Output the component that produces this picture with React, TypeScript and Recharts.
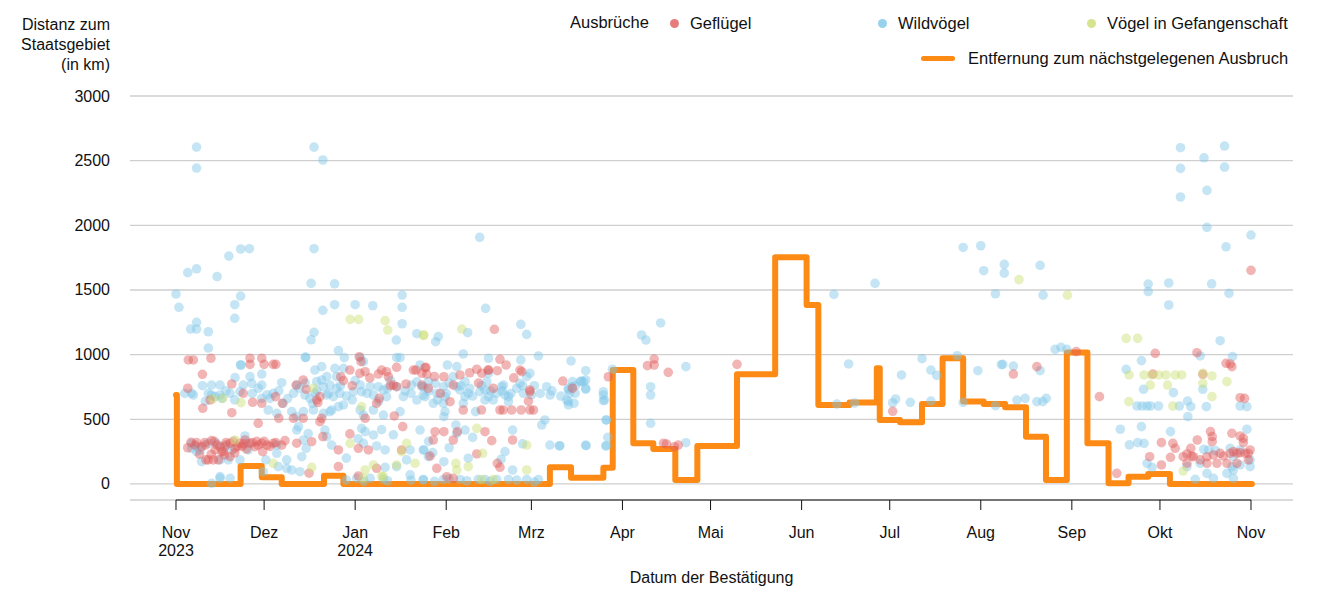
import React from 'react'
import {
  ComposedChart,
  Scatter,
  Line,
  XAxis,
  YAxis,
  CartesianGrid,
  ReferenceLine,
} from 'recharts'

// x = Tage seit 1. Nov 2023, y = Distanz in km
const MONTH_TICKS = [0, 30, 61, 92, 121, 152, 182, 213, 243, 274, 305, 335, 366]
const MONTH_LABELS = ['Nov\n2023', 'Dez', 'Jan\n2024', 'Feb', 'Mrz', 'Apr', 'Mai', 'Jun', 'Jul', 'Aug', 'Sep', 'Okt', 'Nov']
const Y_TICKS = [0, 500, 1000, 1500, 2000, 2500, 3000]

const gefluegel: [number, number][] = [
  [4.2, 959], [5.9, 959], [11.9, 972], [9, 848], [4, 740], [9.1, 585], [11.6, 649], [19, 773], [19, 551],
  [25.2, 972], [29.2, 972], [25.2, 925], [30, 925], [33.1, 925], [34, 925], [22.9, 701], [26.1, 632],
  [29.2, 624], [33.9, 675], [36.2, 624], [28, 469], [35, 508],
  [5.1, 322], [8.7, 288], [12.1, 335], [13.3, 263], [15, 288], [16.1, 250], [18.4, 315], [20.1, 276],
  [21.8, 315], [23.5, 340], [25.2, 315], [26.9, 288], [29.2, 315], [29.5, 250], [33.1, 315], [37.1, 335],
  [12.7, 186], [14.4, 186], [10.2, 186], [18.4, 211], [15.6, 250], [11, 186], [6.5, 300], [9.8, 320],
  [17, 300], [19.5, 330], [22.5, 290], [27.5, 330], [31, 300], [24, 270], [16.5, 225], [8, 230],
  [4, 280], [7, 320], [10, 300], [13, 330], [14, 300], [17, 320], [21, 290], [23, 310], [26, 320],
  [28, 300], [30, 330], [32, 290], [34, 320], [36, 300], [12, 230], [20, 240],
  [55.3, 263], [55.3, 134], [59.2, 387], [46.2, 327], [41.1, 315], [45.3, 83], [62.1, 276], [65.5, 263],
  [62.4, 984], [63, 946], [68.9, 850], [72.3, 829], [71.7, 868], [75.1, 902], [78.3, 773], [81.7, 881],
  [85.4, 850], [84.8, 899], [77.2, 443], [74.3, 526], [57, 799], [56.1, 829], [40.9, 765], [44.3, 732],
  [43.3, 804], [47.9, 649], [49, 675], [48.3, 630], [40, 508], [43.3, 508], [49, 482], [49.6, 508],
  [50, 366], [59.2, 881], [62.6, 855], [64.4, 868], [64.4, 508], [68.3, 624], [69.2, 662], [74, 765],
  [75.1, 752], [76.8, 263], [80.8, 881], [68.3, 121], [62.1, 62],
  [60, 760], [66, 820], [70, 880], [73, 760], [88, 830], [90, 700], [100, 860], [103, 780], [108, 740],
  [115, 820], [120, 640],
  [85.1, 902], [83.7, 856], [91.2, 829], [102.4, 887], [106.3, 881], [109.4, 876], [117.1, 881],
  [117.7, 868], [110.3, 964], [112.4, 920], [108.4, 1196], [120.5, 713], [110.3, 572], [111.4, 572],
  [114.3, 572], [117.5, 572], [120.5, 572], [121.7, 572], [104, 572], [88.2, 404], [91.2, 404],
  [87.6, 340], [94.4, 340], [95.8, 404], [105.2, 404], [107.5, 335], [114.6, 340], [86.5, 216],
  [102.4, 232], [109.4, 160], [110.3, 129], [88.8, 121], [92.2, 56], [94.4, 44], [94.4, 765], [96.7, 843],
  [93.3, 636], [97.8, 572], [83.7, 765], [85.9, 740], [104.1, 856], [106.4, 881], [120.5, 727],
  [131.7, 796], [135, 740], [147.2, 829], [160.5, 915], [162.8, 966], [162.8, 920], [167.6, 863],
  [166, 315], [167, 309], [169.7, 288], [171, 301], [191, 925],
  [244, 562],
  [285.1, 850], [293.1, 907], [306.5, 1023], [314.4, 675], [320.3, 82],
  [333.4, 1010], [332.6, 850], [335.5, 320], [339.4, 314], [340.2, 276], [331.5, 211], [338.6, 206],
  [335.5, 147], [342.9, 211], [345.5, 276], [345.8, 216], [347.6, 1015], [357.5, 933], [358.9, 928],
  [359.5, 907], [349.6, 848], [362.3, 667], [363.8, 662], [359.5, 392], [362.3, 371], [363.4, 353],
  [363.4, 320], [352.2, 405], [352.8, 366], [352.8, 327], [347.7, 340], [344.2, 232], [346.4, 211],
  [348.7, 186], [351, 211], [353.2, 224], [355.5, 237], [356.6, 216], [358.9, 237], [360, 250],
  [361.2, 237], [362.3, 242], [364, 237], [365.1, 237], [365.1, 186], [365.7, 263], [351, 160],
  [354.4, 160], [357.8, 160], [361.2, 160], [344.2, 160], [366, 1652],
]

const wildvoegel: [number, number][] = [
  [7, 2605], [7, 2443], [47, 2605], [50, 2505], [0, 1469], [1, 1366], [4, 1634], [7, 1664], [14, 1603],
  [18, 1762], [22, 1817], [25, 1819], [47, 1819], [46, 1551], [54, 1548], [50, 1343], [54, 1386],
  [61, 1386], [67, 1378], [77, 1461], [77, 1366], [77, 1239], [75, 1113], [82, 1162], [22, 1453],
  [20, 1386], [20, 1281], [7, 1250], [5, 1198], [7, 1198], [11, 1177], [11, 1051], [22, 920], [44, 979],
  [47, 1172], [46, 1115],
  [12.1, 765], [15, 765], [12.1, 688], [15, 688], [11, 701], [5.3, 701], [5.9, 688], [13.3, 675],
  [15.6, 662], [18.4, 701], [21.8, 714], [22.9, 765], [25.8, 778], [29.2, 765], [29.2, 662], [32, 662],
  [33.1, 701], [36, 783], [40, 701], [41.1, 765], [43.9, 688], [45.6, 662], [47.3, 701], [49.6, 804],
  [50.2, 752], [51.3, 688], [54.1, 894], [54.7, 830], [57, 894], [54.7, 740], [55.3, 598], [57, 611],
  [60.4, 714], [62.7, 765], [63.2, 714], [66.1, 752], [67.2, 688], [68.9, 752], [70.6, 727], [71.7, 675],
  [75.1, 752], [77.4, 675], [80.2, 765], [83.7, 752], [84.2, 688], [82, 649], [39.4, 559], [41.1, 521],
  [43.4, 559], [46.8, 572], [50.2, 546], [52.4, 559], [62.7, 572], [63.8, 533], [67.2, 572], [70.6, 533],
  [76.3, 559],
  [3, 700], [9, 760], [10, 640], [17, 720], [20, 650], [26, 700], [28, 740], [31, 690], [35, 720], [38, 660],
  [42, 740], [44, 780], [48, 720], [52, 700], [56, 760], [58, 680], [60, 650], [61, 800], [65, 700],
  [69, 640], [72, 740], [73, 800], [78, 720], [80, 700], [82, 790],
  [86, 720], [89, 650], [92, 700], [93, 780], [97, 760], [100, 740], [101, 680], [104, 760], [107, 720],
  [108, 650], [111, 720], [114, 700], [116, 740], [118, 760], [121, 690], [122, 760], [124, 700],
  [128, 720], [131, 680], [136, 760],
  [5.3, 314], [7, 289], [8.2, 263], [7, 250], [11, 314], [13.8, 314], [16.7, 289], [19, 263], [23.5, 371],
  [24.1, 314], [24.6, 263], [5.3, 276], [8.7, 173], [15, 186], [17.8, 186], [21.8, 186], [34.3, 237],
  [34.8, 134], [37.7, 121], [39.4, 108], [42.2, 95], [41.1, 417], [41.7, 443], [43.4, 340], [44.3, 276],
  [42.8, 211], [50.7, 417], [51.3, 366], [63.2, 430], [63.8, 314], [64.4, 405], [67.2, 379], [68.3, 294],
  [71.2, 263], [78.5, 186], [79.7, 263], [83.1, 417], [84.2, 263], [85.9, 211], [71.2, 129], [75.1, 134],
  [34.3, 301], [37.7, 186], [30.6, 186], [29.7, 95], [15, 57], [18.4, 44], [12.1, 5],
  [45, 390], [53, 300], [58, 200], [62, 350], [70, 420], [74, 380], [86, 330], [93, 280], [101, 360],
  [112, 250], [118, 310],
  [58, 30], [64, 20], [72, 25], [80, 30], [88, 20], [93, 40], [99, 25], [107, 20], [116, 30], [122, 15],
  [22.1, 920], [44.2, 979], [57.3, 977], [55.3, 1031], [62.7, 977], [63.8, 946], [75.1, 977], [76.3, 977],
  [29.2, 850], [25.2, 830], [20.1, 822], [83.1, 920], [47.3, 881], [49.6, 907], [51.3, 830], [52.4, 765],
  [47.9, 791], [53.6, 675], [55.8, 701], [46.5, 624], [53, 572], [31.4, 572], [34.3, 546], [36.5, 624],
  [15, 44], [61.5, 44], [66.1, 44], [70.6, 36], [84.2, 31], [79.7, 70],
  [84.2, 752], [85.9, 791], [88.2, 778], [88.8, 701], [91, 752], [91.6, 675], [94.4, 830], [95.6, 752],
  [96.7, 727], [98.4, 791], [98.4, 675], [99.5, 701], [97.8, 624], [103.5, 714], [105.2, 727], [105.8, 791],
  [106.4, 675], [109.2, 701], [110.9, 752], [112, 688], [113.2, 675], [113.2, 636], [117.1, 778],
  [118.3, 701], [119.4, 830], [120.5, 856], [126.2, 752], [127.4, 688], [133, 649], [133.6, 727],
  [134.7, 752], [135.9, 701], [137.6, 791], [139.5, 740], [145.5, 688], [145.9, 649], [91, 624], [87.6, 624],
  [84.8, 675], [91.6, 559], [95.3, 456], [111.5, 765], [106.4, 856], [105.2, 649], [95.6, 907], [92.4, 920],
  [97.8, 1005], [106.4, 972], [117.4, 959], [123.4, 990], [134.5, 951], [138.7, 791],
  [103.4, 1907], [105.4, 1358], [99.3, 1170], [117.4, 1234], [119.4, 1157], [89.3, 1139], [88.4, 1100],
  [102, 559], [91.2, 520], [98.4, 417], [95.6, 392], [114.6, 417], [125.6, 495], [124.5, 456], [127.3, 301],
  [130.5, 294], [139.5, 301], [146.3, 294], [146.6, 495], [84.4, 263], [87.4, 242], [91.2, 172], [99.5, 199],
  [110.7, 191], [114.6, 108], [84.2, 35], [91, 35], [96.7, 35], [102.9, 35], [105.2, 35], [109.2, 35],
  [113.2, 35], [119.4, 35], [123.4, 35],
  [139.5, 876], [139.5, 804], [139.5, 732], [138, 796], [135, 791], [133.6, 740], [134, 701], [133.6, 636],
  [133.6, 611], [135.5, 624], [145.5, 713], [145.5, 644], [146.4, 495], [147, 361], [146.6, 296],
  [139.6, 296], [130.7, 296], [148.6, 887],
  [158.5, 1152], [165, 1245], [160, 1113], [173.6, 907], [161.6, 752], [161.6, 688], [161.6, 469], [173.6, 319],
  [224, 1466], [238, 1551], [229, 928], [254, 969], [247, 843], [257, 881], [259, 840], [245, 657], [244, 628],
  [250, 631], [225, 618], [231, 626], [257, 641], [268, 1829], [274, 1842], [275, 1649], [282, 1698],
  [282, 1630], [279, 1471], [273, 876], [281, 922], [266, 992], [268, 631], [279, 605], [294.2, 1690],
  [295.2, 1460],
  [281.5, 925], [285.1, 912], [294.2, 876], [286.3, 649], [289.1, 662], [293.1, 637], [295.1, 637],
  [296.3, 662], [299.3, 1041], [301.3, 1057], [303.3, 1041], [328.7, 954], [323.5, 886], [329.4, 732],
  [339.6, 706], [327.2, 603], [328.9, 603], [330.6, 603], [331.8, 603], [334.5, 603], [341.6, 603],
  [345.5, 598], [344.4, 641], [344.5, 521], [321.5, 423], [328.7, 443], [324.6, 302], [327.4, 320],
  [329.6, 314], [338.6, 405], [330.6, 160], [332.3, 129], [348.7, 990], [355.5, 1108], [359.7, 985],
  [349.6, 732], [350.8, 598], [362.3, 603], [364.6, 598], [364.6, 423],
  [349.9, 268], [351.6, 263], [353.9, 258], [358.9, 276], [360, 211], [362.3, 263], [359.5, 134], [360, 108],
  [362.3, 147], [365.7, 186], [365.7, 134], [348.7, 160], [344.2, 134], [351, 82], [357.8, 82], [353.2, 44],
  [360, 44], [347, 36],
  [342, 2600], [350, 2522], [357, 2613], [342, 2440], [357, 2450], [351, 2270], [342, 2219], [351, 1984],
  [366, 1925], [357.5, 1834], [331, 1546], [331, 1488], [338, 1554], [352.6, 1548], [338, 1384], [358.5, 1474],
]

const gefangenschaft: [number, number][] = [
  [59.3, 1273], [62.2, 1273], [71.2, 1263], [72.1, 1190], [84.2, 1149], [12.5, 657], [15.9, 662], [22.1, 629],
  [46.8, 740], [63.2, 598], [33.1, 160], [46.2, 129], [59.3, 314], [78.5, 314], [76.8, 250], [81.4, 160],
  [64.4, 108], [67.2, 147], [70, 62], [75.1, 147], [20.1, 340], [63.8, 44], [70.6, 57], [84.4, 1152],
  [97.3, 1198], [102.4, 430], [119.4, 301], [104.4, 237], [95.3, 160], [99.5, 134], [119.4, 108], [95.6, 108],
  [104, 35], [108, 35], [287, 1580], [303.5, 1460], [323.5, 1126], [327.4, 1126], [324.5, 843], [329.6, 843],
  [332.2, 843], [334.5, 843], [337, 843], [340.2, 843], [342.4, 843], [331.7, 765], [337.6, 765], [324.4, 637],
  [339.4, 603], [349.6, 856], [352.7, 835], [349.6, 778], [357.8, 791], [352.7, 675], [342.9, 100],
]

// Entfernung zum nächstgelegenen Ausbruch (Stufenlinie)
const entfernung: [number, number][] = [
  [0, 688], [0.3, 0], [22, 139], [29.2, 52], [36, 0], [50.4, 64], [57, 0], [127.3, 129], [134.5, 49],
  [145.5, 126], [148.7, 882], [155.7, 315], [162.5, 271], [170, 31], [177.5, 294], [191, 848], [204, 1753],
  [214.7, 1384], [218.7, 611], [229.3, 629], [238.6, 895], [239.6, 495], [246.5, 477], [254, 619], [261, 972],
  [268, 637], [275, 619], [282.3, 593], [289.4, 366], [296.2, 31], [303.3, 1016], [310.3, 315], [317.5, 5],
  [324.3, 56], [331, 77], [338.4, 0], [366.3, 0],
]

const toPts = (arr: [number, number][]) => arr.map(([x, y]) => ({ x, y }))

const RED = '#e05a5a'
const BLUE = '#7ec6e8'
const GREEN = '#cadd72'
const ORANGE = '#fd8a14'
const FONT = '"Liberation Sans", Arial, sans-serif'

const dot = (color: string) => (props: any) => (
  <circle cx={props.cx} cy={props.cy} r={4.8} fill={color} fillOpacity={0.45} />
)

const XTick = (p: any) => {
  const i = MONTH_TICKS.indexOf(p.payload.value)
  const lines = (MONTH_LABELS[i] || '').split('\n')
  return (
    <text x={p.x} y={538} textAnchor="middle" fontSize={16} fill="#111" fontFamily={FONT}>
      {lines.map((l, k) => (
        <tspan key={k} x={p.x} dy={k ? 18 : 0}>{l}</tspan>
      ))}
    </text>
  )
}

const YTick = (p: any) => (
  <text x={110} y={p.y + 5.5} textAnchor="end" fontSize={16} fill="#111" fontFamily={FONT}>
    {p.payload.value}
  </text>
)

const txt: React.CSSProperties = { position: 'absolute', fontSize: 16, lineHeight: '20px', color: '#111', whiteSpace: 'nowrap' }
const leg: React.CSSProperties = { ...txt, fontSize: 16.5 }
const legendDot = (left: number, color: string): React.CSSProperties => ({
  position: 'absolute', left: left - 4.5, top: 18.5, width: 9, height: 9, borderRadius: '50%', background: color, opacity: 0.8,
})

export default function App() {
  return (
    <div style={{ position: 'absolute', left: 0, top: 0, width: 1333, height: 600, fontFamily: FONT }}>
      <ComposedChart width={1333} height={600} margin={{ top: 96, right: 40, bottom: 40, left: 70 }}>
        <CartesianGrid horizontal vertical={false} stroke="#cfcfcf" strokeWidth={1.3} />
        <XAxis
          dataKey="x"
          type="number"
          domain={[-15.66, 380.3]}
          allowDataOverflow
          ticks={MONTH_TICKS}
          tick={XTick}
          tickSize={10}
          tickLine={{ stroke: '#111' }}
          axisLine={false}
          height={60}
          interval={0}
        />
        <YAxis
          dataKey="y"
          type="number"
          domain={[-124, 3000]}
          allowDataOverflow
          ticks={Y_TICKS}
          tick={YTick}
          tickLine={false}
          axisLine={false}
          width={60}
          interval={0}
        />
        <ReferenceLine
          segment={[{ x: 0, y: -124 }, { x: 366, y: -124 }]}
          stroke="#111"
          strokeWidth={1}
          ifOverflow="visible"
        />
        <Scatter data={toPts(wildvoegel)} dataKey="y" shape={dot(BLUE)} isAnimationActive={false} />
        <Scatter data={toPts(gefluegel)} dataKey="y" shape={dot(RED)} isAnimationActive={false} />
        <Scatter data={toPts(gefangenschaft)} dataKey="y" shape={dot(GREEN)} isAnimationActive={false} />
        <Line
          data={toPts(entfernung)}
          dataKey="y"
          type="stepAfter"
          stroke={ORANGE}
          strokeWidth={6}
          strokeLinejoin="round"
          strokeLinecap="round"
          dot={false}
          activeDot={false}
          isAnimationActive={false}
        />
      </ComposedChart>

      <div style={{ ...txt, left: 0, top: 15, width: 110, textAlign: 'right' }}>
        Distanz zum<br />Staatsgebiet<br />(in km)
      </div>

      <div style={{ ...leg, left: 570, top: 12 }}>Ausbrüche</div>
      <div style={legendDot(674, RED)} />
      <div style={{ ...leg, left: 690, top: 13 }}>Geflügel</div>
      <div style={legendDot(882.5, BLUE)} />
      <div style={{ ...leg, left: 898, top: 13 }}>Wildvögel</div>
      <div style={legendDot(1091, GREEN)} />
      <div style={{ ...leg, left: 1107, top: 13 }}>Vögel in Gefangenschaft</div>
      <div style={{ position: 'absolute', left: 921, top: 55.5, width: 34, height: 5, borderRadius: 2.5, background: ORANGE }} />
      <div style={{ ...leg, left: 968, top: 48 }}>Entfernung zum nächstgelegenen Ausbruch</div>

      <div style={{ ...txt, left: 130, width: 1163, top: 568, textAlign: 'center' }}>Datum der Bestätigung</div>
    </div>
  )
}
